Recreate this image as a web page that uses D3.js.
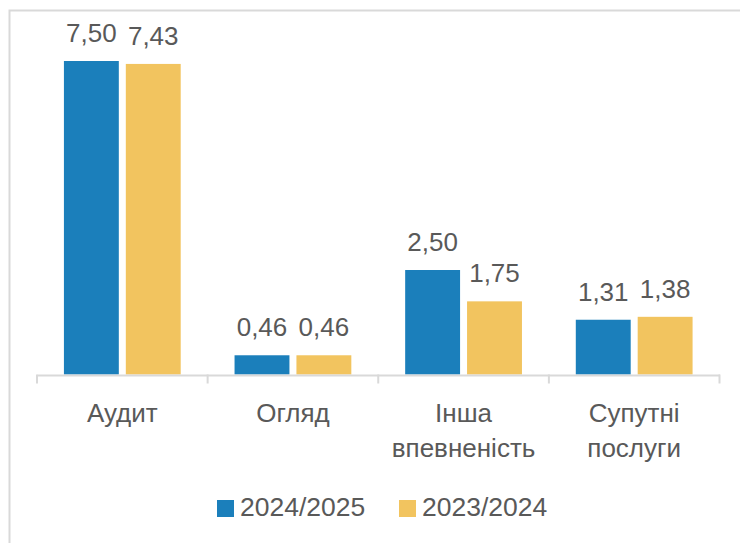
<!DOCTYPE html>
<html>
<head>
<meta charset="utf-8">
<script src="https://cdn.jsdelivr.net/npm/d3@7"></script>
<style>
  body { margin: 0; background: #fff; }
  svg { display: block; }
  text { font-family: "Liberation Sans", Arial, sans-serif; fill: #595959; }
</style>
</head>
<body>
<script>
const categories = [['Аудит'], ['Огляд'], ['Інша', 'впевненість'], ['Супутні', 'послуги']]
const seriesNames = ['2024/2025', '2023/2024']
const values2425 = [7.50, 0.46, 2.50, 1.31]
const values2324 = [7.43, 0.46, 1.75, 1.38]
const colors = ['#1b7fbb', '#f2c45f']

const width = 740
const height = 543
const fmt = v => d3.format('.2f')(v).replace('.', ',')

const svg = d3.select('body').append('svg')
    .attr('width', width)
    .attr('height', height)

// chart frame (only top and left edges are inside the window)
svg.append('rect')
    .attr('x', 9.5).attr('y', 10.5)
    .attr('width', 760).attr('height', 560)
    .attr('fill', 'none')
    .attr('stroke', '#d9d9d9')
    .attr('stroke-width', 2)

const keys = categories.map((c, i) => i)
const x = d3.scaleBand().domain(keys).range([37, 719.5]).padding(0)
const xInner = d3.scaleBand().domain([0, 1]).range([0, x.bandwidth()])
    .paddingInner(0.113).paddingOuter(0.435)
const y = d3.scaleLinear().domain([0, 7.5]).range([374.5, 61])

const series = [values2425, values2324]

const groups = svg.selectAll('g.cat')
    .data(keys)
    .enter().append('g')
    .attr('class', 'cat')
    .attr('transform', d => `translate(${x(d)},0)`)

series.forEach((vals, s) => {
    groups.append('rect')
        .attr('x', d => xInner(s))
        .attr('y', d => y(vals[d]))
        .attr('width', xInner.bandwidth())
        .attr('height', d => y(0) - y(vals[d]))
        .attr('fill', colors[s])

    groups.append('text')
        .attr('x', d => xInner(s) + xInner.bandwidth() / 2)
        .attr('y', d => y(vals[d]) - 19)
        .attr('text-anchor', 'middle')
        .attr('font-size', 26)
        .text(d => fmt(vals[d]))
})

// axis
const axis = svg.append('g')
    .attr('transform', `translate(0,${y(0) + 0.5})`)
    .call(d3.axisBottom(x).tickSizeInner(0).tickSizeOuter(0).tickFormat(''))
axis.select('.domain').attr('stroke', '#d9d9d9').attr('stroke-width', 2)
axis.selectAll('.tick').remove()

const tickPos = keys.map(k => x(k)).concat([x(keys[keys.length - 1]) + x.bandwidth()])
svg.selectAll('line.tk')
    .data(tickPos)
    .enter().append('line')
    .attr('class', 'tk')
    .attr('x1', d => d).attr('x2', d => d)
    .attr('y1', y(0)).attr('y2', y(0) + 9)
    .attr('stroke', '#d9d9d9')
    .attr('stroke-width', 2)

// category labels
const labels = svg.selectAll('text.catlab')
    .data(keys)
    .enter().append('text')
    .attr('class', 'catlab')
    .attr('text-anchor', 'middle')
    .attr('font-size', 26)
    .attr('y', 422)
labels.selectAll('tspan')
    .data(d => categories[d].map(t => ({ t, k: d })))
    .enter().append('tspan')
    .attr('x', d => x(d.k) + x.bandwidth() / 2)
    .attr('dy', (d, i) => i === 0 ? 0 : 35)
    .text(d => d.t)

// legend
const legendX = [217, 399]
seriesNames.forEach((name, s) => {
    svg.append('rect')
        .attr('x', legendX[s]).attr('y', 500)
        .attr('width', 17).attr('height', 17)
        .attr('fill', colors[s])
    svg.append('text')
        .attr('x', legendX[s] + 23).attr('y', 516)
        .attr('font-size', 26.5)
        .text(name)
})
</script>
</body>
</html>
